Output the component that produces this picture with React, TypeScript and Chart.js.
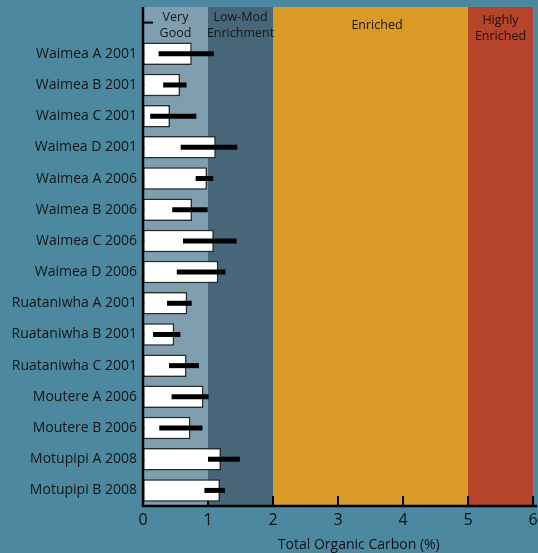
import React, { useEffect, useRef } from "react";
import { Chart, registerables } from "chart.js";

Chart.register(...registerables);

const categories = [
  "",
  "Waimea A 2001",
  "Waimea B 2001",
  "Waimea C 2001",
  "Waimea D 2001",
  "Waimea A 2006",
  "Waimea B 2006",
  "Waimea C 2006",
  "Waimea D 2006",
  "Ruataniwha A 2001",
  "Ruataniwha B 2001",
  "Ruataniwha C 2001",
  "Moutere A 2006",
  "Moutere B 2006",
  "Motupipi A 2008",
  "Motupipi B 2008",
];
const meanValues = [null, 0.75, 0.57, 0.415, 1.12, 0.985, 0.755, 1.09, 1.16, 0.68, 0.48, 0.67, 0.93, 0.73, 1.2, 1.185];
const errLow = [null, 0.24, 0.31, 0.11, 0.58, 0.81, 0.45, 0.615, 0.52, 0.37, 0.155, 0.4, 0.44, 0.25, 1.0, 0.945];
const errHigh = [null, 1.09, 0.67, 0.82, 1.45, 1.08, 0.995, 1.44, 1.27, 0.75, 0.575, 0.86, 1.01, 0.915, 1.49, 1.26];

const bandStarts = [0, 1, 2, 5];
const bandEnds = [1, 2, 5, 6];
const bandColors = ["#7f9eaf", "#47667a", "#d99a28", "#b5442a"];
const bandLabels = [["Very", "Good"], ["Low-Mod", "Enrichment"], ["Enriched"], ["Highly", "Enriched"]];
const bandLabelCenters = [0.5, 1.5, 3.6, 5.5];
const xTicks = [0, 1, 2, 3, 4, 5, 6];
const xTitle = "Total Organic Carbon (%)";

const BG = "#4c89a0";
const FONT = "'Open Sans', sans-serif";

const decorPlugin = {
  id: "decor",
  beforeDraw(chart: any) {
    const { ctx, chartArea, scales } = chart;
    const x = scales.x;
    ctx.save();
    ctx.fillStyle = BG;
    ctx.fillRect(0, 0, chart.width, chart.height);
    for (let i = 0; i < bandStarts.length; i++) {
      const x0 = x.getPixelForValue(bandStarts[i]);
      const x1 = x.getPixelForValue(bandEnds[i]);
      ctx.fillStyle = bandColors[i];
      ctx.fillRect(x0, chartArea.top, x1 - x0, chartArea.bottom - chartArea.top);
    }
    ctx.restore();
  },
  beforeDatasetsDraw(chart: any) {
    const { ctx, chartArea, scales } = chart;
    const x = scales.x;
    const y = scales.y;
    ctx.save();
    ctx.strokeStyle = "#000";
    ctx.lineWidth = 2;
    for (let i = 0; i < categories.length; i++) {
      const py = y.getPixelForValue(i);
      ctx.beginPath();
      ctx.moveTo(chartArea.left, py);
      ctx.lineTo(chartArea.left + 10, py);
      ctx.stroke();
    }
    for (const v of xTicks) {
      const px = x.getPixelForValue(v);
      ctx.beginPath();
      ctx.moveTo(px, chartArea.bottom);
      ctx.lineTo(px, chartArea.bottom - 10);
      ctx.stroke();
    }
    ctx.restore();
  },
  afterDatasetsDraw(chart: any) {
    const { ctx, chartArea, scales } = chart;
    const x = scales.x;
    const y = scales.y;
    ctx.save();
    ctx.strokeStyle = "#000";
    ctx.lineWidth = 5;
    for (let i = 0; i < categories.length; i++) {
      if (errLow[i] == null || errHigh[i] == null) continue;
      const py = y.getPixelForValue(i);
      ctx.beginPath();
      ctx.moveTo(x.getPixelForValue(errLow[i]), py);
      ctx.lineTo(x.getPixelForValue(errHigh[i]), py);
      ctx.stroke();
    }
    // axes lines
    ctx.lineWidth = 2.5;
    ctx.beginPath();
    ctx.moveTo(chartArea.left, chartArea.top);
    ctx.lineTo(chartArea.left, chartArea.bottom);
    ctx.lineTo(chart.width - 1, chartArea.bottom);
    ctx.stroke();
    // band labels
    ctx.fillStyle = "#161616";
    ctx.font = `12.5px ${FONT}`;
    ctx.textAlign = "center";
    ctx.textBaseline = "middle";
    for (let i = 0; i < bandLabels.length; i++) {
      const cx = x.getPixelForValue(bandLabelCenters[i]);
      const lines = bandLabels[i];
      const startY = lines.length === 1 ? 25 : i === 3 ? 20 : 17;
      lines.forEach((ln, k) => ctx.fillText(ln, cx, startY + k * 16));
    }
    // x title
    ctx.fillStyle = "#111";
    ctx.font = `14px ${FONT}`;
    ctx.fillText(xTitle, x.getPixelForValue(3.32), 545);
    ctx.restore();
  },
};

export default function App() {
  const ref = useRef<HTMLCanvasElement>(null);
  useEffect(() => {
    document.body.style.margin = "0";
    document.body.style.background = BG;
    const chart = new Chart(ref.current!, {
      type: "bar",
      data: {
        labels: categories,
        datasets: [
          {
            data: meanValues as any,
            backgroundColor: "#ffffff",
            borderColor: "#2a2a2a",
            borderWidth: 1.5,
            borderSkipped: false,
            barPercentage: 0.72,
            categoryPercentage: 1,
          },
        ],
      },
      options: {
        indexAxis: "y",
        responsive: false,
        animation: false,
        layout: { padding: { top: 7, right: 5, left: 0, bottom: 0 } },
        plugins: { legend: { display: false }, tooltip: { enabled: false } },
        scales: {
          x: {
            min: 0,
            max: 6,
            afterFit: (s: any) => {
              s.height = 47;
              s.paddingLeft = 0;
              s.paddingRight = 0;
            },
            afterBuildTicks: (s: any) => {
              s.ticks = xTicks.map((v) => ({ value: v }));
            },
            grid: { display: false, drawTicks: false },
            border: { display: false },
            ticks: { color: "#111", font: { size: 16, family: FONT }, padding: 5, maxRotation: 0 },
          },
          y: {
            afterFit: (s: any) => {
              s.width = 143;
              s.paddingTop = 0;
              s.paddingBottom = 0;
            },
            grid: { display: false, drawTicks: false },
            border: { display: false },
            ticks: { color: "#151515", font: { size: 14, family: FONT }, padding: 6, autoSkip: false },
          },
        },
      },
      plugins: [decorPlugin],
    });
    return () => chart.destroy();
  }, []);
  return <canvas ref={ref} width={538} height={553} style={{ display: "block" }} />;
}
